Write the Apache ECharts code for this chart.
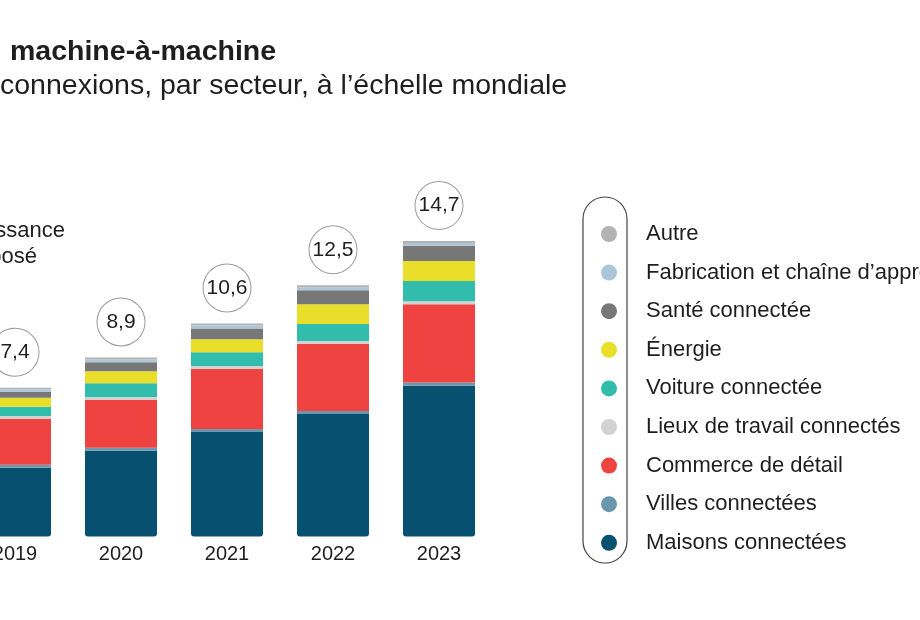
<!DOCTYPE html>
<html>
<head>
<meta charset="utf-8">
<script src="https://cdn.jsdelivr.net/npm/echarts@6/dist/echarts.min.js"></script>
<style>
  html, body { margin: 0; padding: 0; background: #fff; }
  #chart { width: 920px; height: 620px; }
</style>
</head>
<body>
<div id="chart"></div>
<script>
    var years = ['2019', '2020', '2021', '2022', '2023'];
    var totals = [7.4, 8.9, 10.6, 12.5, 14.7];

    // milliards de connexions, par secteur
    var maisons = [3.42, 4.26, 5.2, 6.1, 7.5];
    var villes = [0.15, 0.15, 0.15, 0.15, 0.16];
    var commerce = [2.28, 2.38, 2.98, 3.33, 3.9];
    var lieux = [0.15, 0.15, 0.15, 0.15, 0.15];
    var voiture = [0.45, 0.69, 0.69, 0.84, 1.0];
    var energie = [0.45, 0.59, 0.64, 0.99, 1.0];
    var sante = [0.3, 0.45, 0.54, 0.69, 0.75];
    var fabrication = [0.12, 0.14, 0.15, 0.15, 0.14];
    var autre = [0.08, 0.1, 0.1, 0.1, 0.1];

    var sectors = [
        {name: 'Maisons connectées', data: maisons, color: '#08506f'},
        {name: 'Villes connectées', data: villes, color: '#6a97ad'},
        {name: 'Commerce de détail', data: commerce, color: '#ee4340'},
        {name: 'Lieux de travail connectés', data: lieux, color: '#d2d2d2'},
        {name: 'Voiture connectée', data: voiture, color: '#31bcab'},
        {name: 'Énergie', data: energie, color: '#e9df2a'},
        {name: 'Santé connectée', data: sante, color: '#777777'},
        {name: 'Fabrication et chaîne d’approvisionnement', data: fabrication, color: '#abc5d9'},
        {name: 'Autre', data: autre, color: '#b3b3b3'}
    ];

    var font = '"Liberation Sans", Arial, sans-serif';

    var series = sectors.map(function (s, i) {
        var item = {
            name: s.name,
            type: 'bar',
            stack: 'total',
            barWidth: 72,
            data: s.data,
            itemStyle: {color: s.color},
            emphasis: {disabled: true}
        };
        if (i === 0) {
            item.itemStyle.borderRadius = [0, 0, 3, 3];
        }
        if (i === sectors.length - 1) {
            item.label = {
                show: true,
                position: 'top',
                distance: 12,
                formatter: function (p) {
                    return totals[p.dataIndex].toFixed(1).replace('.', ',');
                },
                width: 47,
                height: 47,
                lineHeight: 47,
                align: 'center',
                borderRadius: 24,
                borderColor: '#9c9c9c',
                borderWidth: 1,
                backgroundColor: '#fff',
                fontFamily: font,
                fontSize: 21,
                color: '#1e1e1e'
            };
        }
        return item;
    });

    var option = {
        backgroundColor: '#fff',
        animation: false,
        grid: {left: -38, right: 428, top: 134.5, bottom: 83.5, outerBoundsMode: 'none', containLabel: false},
        xAxis: {
            type: 'category',
            data: years,
            axisLine: {show: false},
            axisTick: {show: false},
            axisLabel: {
                margin: 8,
                fontFamily: font,
                fontSize: 20,
                color: '#1e1e1e'
            }
        },
        yAxis: {
            type: 'value',
            min: 0,
            max: 20,
            show: false
        },
        legend: {
            orient: 'vertical',
            left: 596,
            top: 217,
            icon: 'circle',
            itemWidth: 16,
            itemHeight: 16,
            itemGap: 14.6,
            selectedMode: false,
            data: sectors.map(function (s) { return s.name; }).reverse(),
            textStyle: {
                fontFamily: font,
                fontSize: 22,
                lineHeight: 24,
                color: '#1e1e1e',
                padding: [0, 0, 0, 24]
            }
        },
        graphic: [
            {
                type: 'text',
                style: {
                    text: 'machine-à-machine',
                    x: 10, y: 52,
                    verticalAlign: 'middle',
                    font: 'bold 28.5px ' + font,
                    fill: '#1e1e1e'
                }
            },
            {
                type: 'text',
                style: {
                    text: 'connexions, par secteur, à l’échelle mondiale',
                    x: 0, y: 86,
                    verticalAlign: 'middle',
                    font: '28.5px ' + font,
                    fill: '#1e1e1e'
                }
            },
            {
                type: 'text',
                style: {
                    text: 'ssance',
                    x: 65, y: 231,
                    align: 'right',
                    verticalAlign: 'middle',
                    font: '22px ' + font,
                    fill: '#1e1e1e'
                }
            },
            {
                type: 'text',
                style: {
                    text: 'posé',
                    x: 37, y: 257,
                    align: 'right',
                    verticalAlign: 'middle',
                    font: '22px ' + font,
                    fill: '#1e1e1e'
                }
            },
            {
                type: 'rect',
                shape: {x: 583, y: 197, width: 44, height: 366, r: 22},
                style: {fill: 'none', stroke: '#444', lineWidth: 1.2}
            }
        ],
        series: series
    };

    var myChart = echarts.init(document.getElementById('chart'));
    myChart.setOption(option);
</script>
</body>
</html>
